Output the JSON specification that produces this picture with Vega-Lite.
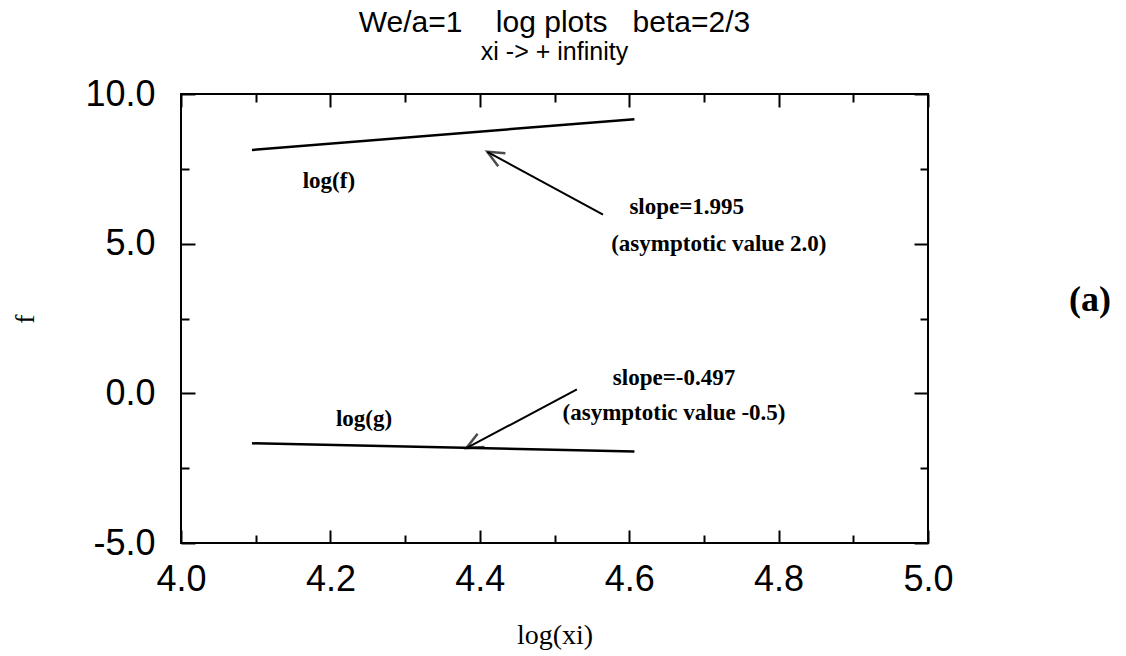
{
  "$schema": "https://vega.github.io/schema/vega-lite/v6.json",
  "width": 747,
  "height": 449,
  "autosize": "none",
  "padding": {"left": 181, "top": 94, "right": 198, "bottom": 113},
  "background": "white",
  "title": {
    "text": "We/a=1\u00a0\u00a0\u00a0\u00a0log plots\u00a0\u00a0\u00a0beta=2/3",
    "subtitle": "xi -> + infinity",
    "anchor": "middle",
    "font": "Liberation Sans",
    "fontSize": 30,
    "fontWeight": "normal",
    "color": "black",
    "subtitleFont": "Liberation Sans",
    "subtitleFontSize": 25,
    "subtitleColor": "black",
    "subtitlePadding": 2,
    "offset": 11
  },
  "config": {
    "view": {"stroke": "black", "strokeWidth": 2},
    "axis": {
      "domain": false,
      "grid": false,
      "tickColor": "black",
      "tickWidth": 2,
      "labelFont": "Liberation Sans",
      "labelFontSize": 36,
      "labelColor": "black",
      "titleFont": "Liberation Serif",
      "titleFontSize": 28,
      "titleFontWeight": "normal",
      "titleColor": "black",
      "labelFlush": false,
      "labelOverlap": false,
      "labelBound": false
    }
  },
  "datasets": {
    "curves": [
      {"series": "log(f)", "x": 4.095, "y": 8.13},
      {"series": "log(f)", "x": 4.607, "y": 9.16},
      {"series": "log(g)", "x": 4.095, "y": -1.67},
      {"series": "log(g)", "x": 4.607, "y": -1.94}
    ],
    "arrows": [
      {"x": 4.565, "y": 5.97, "x2": 4.41, "y2": 8.07},
      {"x": 4.53, "y": 0.13, "x2": 4.382, "y2": -1.83}
    ],
    "notes": [
      {"x": 4.198, "y": 7.08, "text": "log(f)"},
      {"x": 4.245, "y": -0.87, "text": "log(g)"},
      {"x": 4.677, "y": 6.23, "text": "slope=1.995"},
      {"x": 4.72, "y": 5.0, "text": "(asymptotic value 2.0)"},
      {"x": 4.66, "y": 0.5, "text": "slope=-0.497"},
      {"x": 4.66, "y": -0.67, "text": "(asymptotic value -0.5)"}
    ],
    "headF": [{"x": 4.41, "y": 8.07}],
    "headG": [{"x": 4.382, "y": -1.83}],
    "panel": [{"x": 5.217, "y": 3.13, "text": "(a)"}]
  },
  "resolve": {"axis": {"x": "independent", "y": "independent"}},
  "layer": [
    {
      "data": {"name": "curves"},
      "mark": {"type": "line", "color": "black", "strokeWidth": 2.5},
      "encoding": {
        "x": {
          "field": "x", "type": "quantitative",
          "scale": {"domain": [4, 5], "nice": false, "zero": false},
          "axis": {
            "orient": "bottom",
            "values": [4, 4.2, 4.4, 4.6, 4.8, 5],
            "tickSize": -13,
            "labelPadding": 32,
            "labelExpr": "format(datum.value, '.1f')",
            "title": "log(xi)",
            "titlePadding": 24
          }
        },
        "y": {
          "field": "y", "type": "quantitative",
          "scale": {"domain": [-5, 10], "nice": false, "zero": false},
          "axis": {
            "orient": "left",
            "values": [-5, 0, 5, 10],
            "tickSize": -14,
            "labelPadding": 40,
            "labelExpr": "datum.value < 0 ? '-' + format(-datum.value, '.1f') : format(datum.value, '.1f')",
            "title": "f",
            "titlePadding": 45
          }
        },
        "detail": {"field": "series"}
      }
    },
    {
      "data": {"name": "arrows"},
      "mark": {"type": "rule", "color": "black", "strokeWidth": 2},
      "encoding": {
        "x": {
          "field": "x", "type": "quantitative",
          "scale": {"domain": [4, 5], "nice": false, "zero": false},
          "axis": {"orient": "bottom", "values": [4.1, 4.3, 4.5, 4.7, 4.9], "tickSize": -8, "labels": false, "title": null}
        },
        "y": {
          "field": "y", "type": "quantitative",
          "scale": {"domain": [-5, 10], "nice": false, "zero": false},
          "axis": {"orient": "left", "values": [-2.5, 2.5, 7.5], "tickSize": -8, "labels": false, "title": null}
        },
        "x2": {"field": "x2"},
        "y2": {"field": "y2"}
      }
    },
    {
      "data": {"name": "notes"},
      "mark": {"type": "text", "font": "Liberation Serif", "fontSize": 23, "fontWeight": "bold", "color": "black", "align": "center", "baseline": "middle"},
      "encoding": {
        "x": {
          "field": "x", "type": "quantitative",
          "scale": {"domain": [4, 5], "nice": false, "zero": false},
          "axis": {"orient": "top", "values": [4, 4.2, 4.4, 4.6, 4.8, 5], "tickSize": -13, "labels": false, "title": null}
        },
        "y": {
          "field": "y", "type": "quantitative",
          "scale": {"domain": [-5, 10], "nice": false, "zero": false},
          "axis": {"orient": "right", "values": [-5, 0, 5, 10], "tickSize": -14, "labels": false, "title": null}
        },
        "text": {"field": "text"}
      }
    },
    {
      "data": {"name": "headF"},
      "mark": {"type": "point", "shape": "M -1 -0.45 L 0 0 L -1 0.45", "filled": false, "stroke": "black", "strokeWidth": 2.5, "size": 1100, "angle": 208.8},
      "encoding": {
        "x": {
          "field": "x", "type": "quantitative",
          "scale": {"domain": [4, 5], "nice": false, "zero": false},
          "axis": {"orient": "top", "values": [4.1, 4.3, 4.5, 4.7, 4.9], "tickSize": -8, "labels": false, "title": null}
        },
        "y": {
          "field": "y", "type": "quantitative",
          "scale": {"domain": [-5, 10], "nice": false, "zero": false},
          "axis": {"orient": "right", "values": [-2.5, 2.5, 7.5], "tickSize": -8, "labels": false, "title": null}
        }
      }
    },
    {
      "data": {"name": "headG"},
      "mark": {"type": "point", "shape": "M -1 -0.45 L 0 0 L -1 0.45", "filled": false, "stroke": "black", "strokeWidth": 2.5, "size": 1100, "angle": 152.4},
      "encoding": {
        "x": {"field": "x", "type": "quantitative", "scale": {"domain": [4, 5], "nice": false, "zero": false}, "axis": null},
        "y": {"field": "y", "type": "quantitative", "scale": {"domain": [-5, 10], "nice": false, "zero": false}, "axis": null}
      }
    },
    {
      "data": {"name": "panel"},
      "mark": {"type": "text", "font": "Liberation Serif", "fontSize": 36, "fontWeight": "bold", "color": "black", "align": "center", "baseline": "middle"},
      "encoding": {
        "x": {"field": "x", "type": "quantitative", "scale": {"domain": [4, 5], "nice": false, "zero": false}, "axis": null},
        "y": {"field": "y", "type": "quantitative", "scale": {"domain": [-5, 10], "nice": false, "zero": false}, "axis": null},
        "text": {"field": "text"}
      }
    }
  ]
}
